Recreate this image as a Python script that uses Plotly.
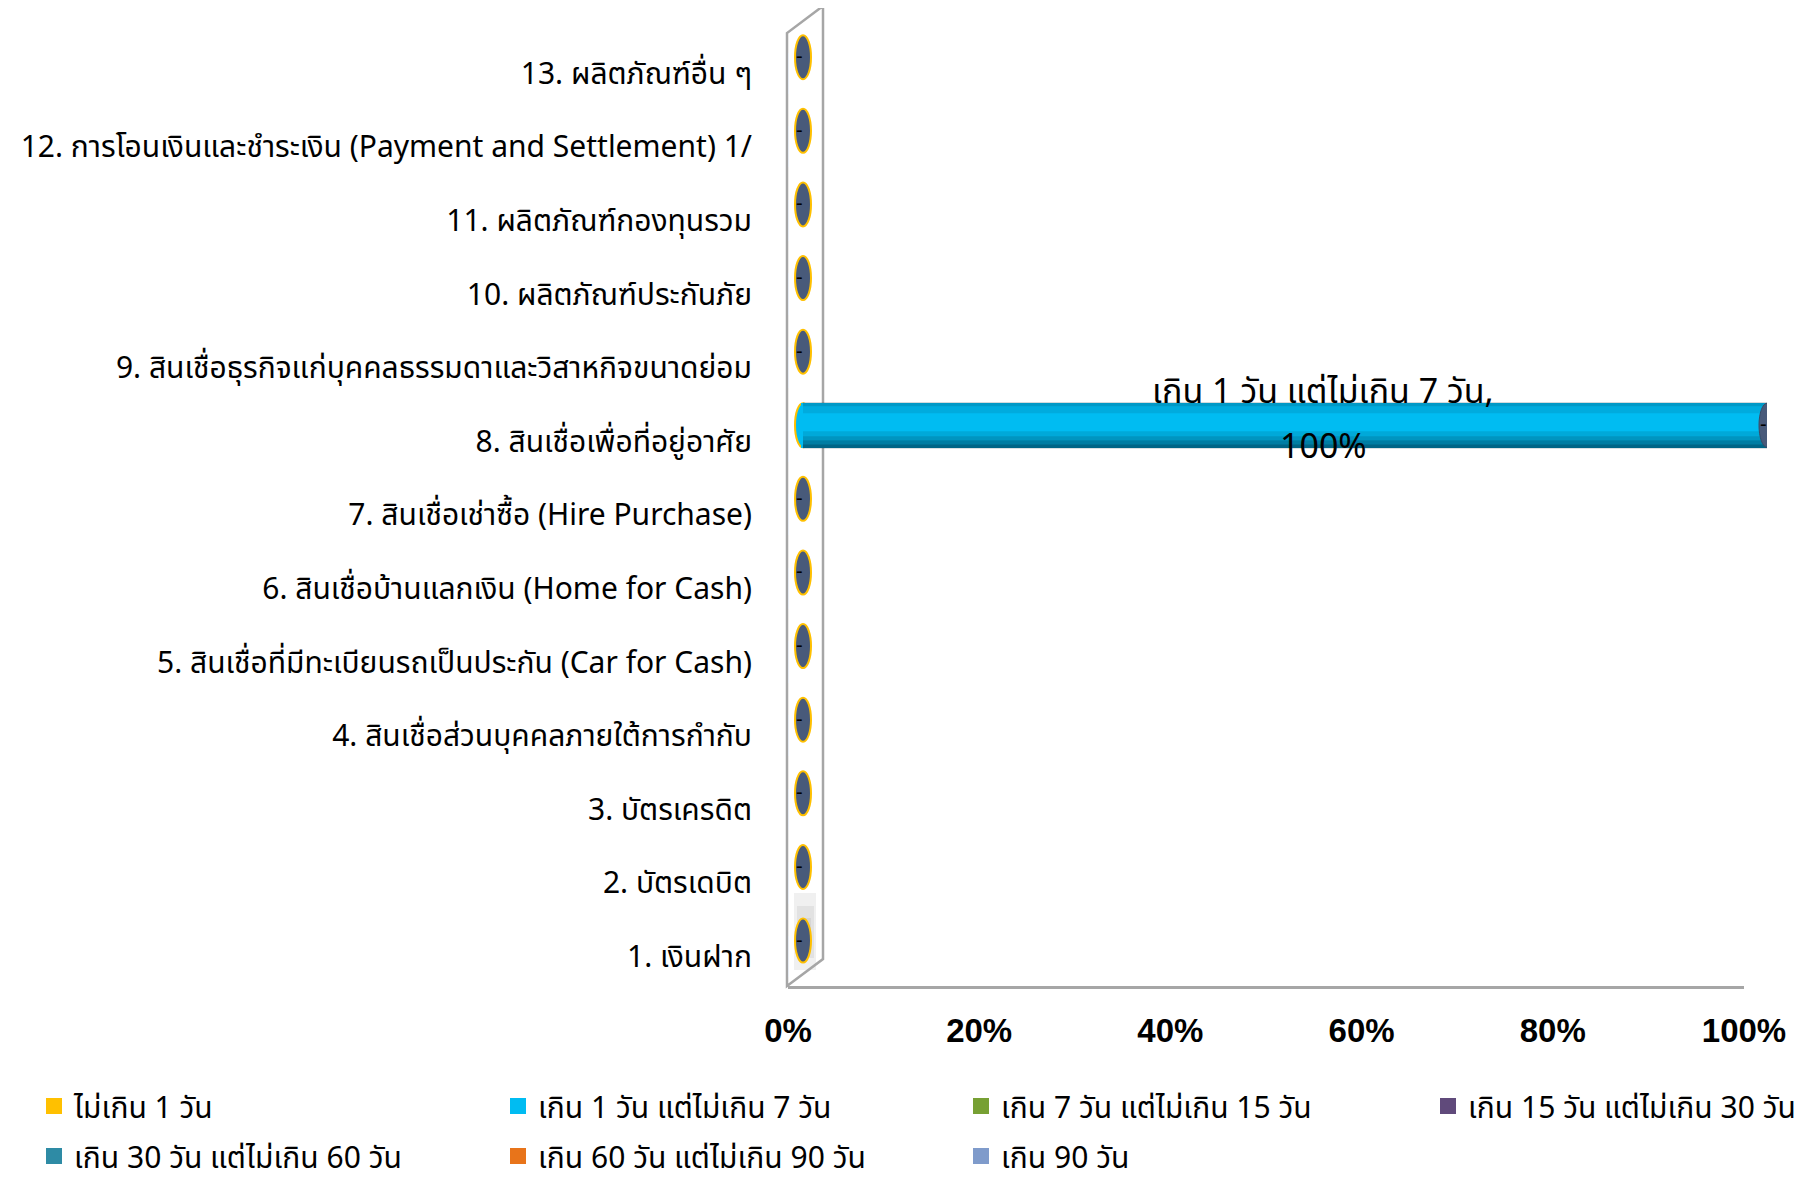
import plotly.graph_objects as go

categories = [
    "1. เงินฝาก",
    "2. บัตรเดบิต",
    "3. บัตรเครดิต",
    "4. สินเชื่อส่วนบุคคลภายใต้การกำกับ",
    "5. สินเชื่อที่มีทะเบียนรถเป็นประกัน (Car for Cash)",
    "6. สินเชื่อบ้านแลกเงิน (Home for Cash)",
    "7. สินเชื่อเช่าซื้อ (Hire Purchase)",
    "8. สินเชื่อเพื่อที่อยู่อาศัย",
    "9. สินเชื่อธุรกิจแก่บุคคลธรรมดาและวิสาหกิจขนาดย่อม",
    "10. ผลิตภัณฑ์ประกันภัย",
    "11. ผลิตภัณฑ์กองทุนรวม",
    "12. การโอนเงินและชำระเงิน (Payment and Settlement) 1/",
    "13. ผลิตภัณฑ์อื่น ๆ",
]
series_names = [
    "ไม่เกิน 1 วัน",
    "เกิน 1 วัน แต่ไม่เกิน 7 วัน",
    "เกิน 7 วัน แต่ไม่เกิน 15 วัน",
    "เกิน 15 วัน แต่ไม่เกิน 30 วัน",
    "เกิน 30 วัน แต่ไม่เกิน 60 วัน",
    "เกิน 60 วัน แต่ไม่เกิน 90 วัน",
    "เกิน 90 วัน",
]
v_le_1 = [0, 0, 0, 0, 0, 0, 0, 0, 0, 0, 0, 0, 0]
v_1_7 = [0, 0, 0, 0, 0, 0, 0, 100, 0, 0, 0, 0, 0]
v_7_15 = [0, 0, 0, 0, 0, 0, 0, 0, 0, 0, 0, 0, 0]
v_15_30 = [0, 0, 0, 0, 0, 0, 0, 0, 0, 0, 0, 0, 0]
v_30_60 = [0, 0, 0, 0, 0, 0, 0, 0, 0, 0, 0, 0, 0]
v_60_90 = [0, 0, 0, 0, 0, 0, 0, 0, 0, 0, 0, 0, 0]
v_gt_90 = [0, 0, 0, 0, 0, 0, 0, 0, 0, 0, 0, 0, 0]
series_values = [v_le_1, v_1_7, v_7_15, v_15_30, v_30_60, v_60_90, v_gt_90]
tick_values = [0, 20, 40, 60, 80, 100]
tick_labels = ["0%", "20%", "40%", "60%", "80%", "100%"]

colors = ["#FFC000", "#00BCF2", "#77A033", "#604A7B", "#2E8BA5", "#E8741A", "#7F9BCB"]
cap_color = "#485A7A"
gold = "#FFC000"

FONT = "Tahoma, 'Noto Sans Thai', Loma, Garuda, 'Noto Sans', 'DejaVu Sans', sans-serif"
W, H = 1820, 1186
ML, MR, MT, MB = 780, 56, 2, 208
PW, PH = W - ML - MR, H - MT - MB
AXW, AXH = 956, 957          # visible axis length in px
BXW = 964                    # bar axis length in px
DX, DY = 15, 16              # 3-D depth offset of the bars

fig = go.Figure()

# invisible anchor trace for the visible category axis
fig.add_trace(go.Bar(y=categories, x=[0] * len(categories), orientation="h",
                     xaxis="x", yaxis="y", showlegend=False, hoverinfo="skip",
                     marker=dict(color="rgba(0,0,0,0)")))

for i, (name, vals) in enumerate(zip(series_names, series_values)):
    fig.add_trace(go.Bar(
        y=categories, x=vals, name=name, orientation="h",
        xaxis="x2", yaxis="y2",
        marker=dict(color=colors[i], line=dict(width=4, color=colors[i])),
        legend="legend" if i == 0 else f"legend{i + 1}",
    ))

totals = [sum(s[k] for s in series_values) for k in range(len(categories))]
shapes = []
annotations = []


def px_x(p):
    return (p - ML) / PW


def px_y(p):
    return (H - MB - p) / PH


# soft shadow on the lower part of the side wall
for (ya, yb, xa, xb) in [(885, 962, 786, 808), (898, 950, 789, 806), (910, 940, 792, 803)]:
    shapes.append(dict(type="rect", xref="paper", yref="paper",
                       x0=px_x(xa), x1=px_x(xb), y0=px_y(yb), y1=px_y(ya),
                       fillcolor="rgba(110,110,110,0.10)", line=dict(width=0), layer="below"))

# cylinder shading bands over each non-zero segment (computed from data)
bands = [(-23, -19, 0.55), (-19, -15, 0.40), (-15, -11, 0.25), (-11, -6, 0.12),
         (12, 19, 0.10), (19, 23, 0.22)]
for i, vals in enumerate(series_values):
    for k, v in enumerate(vals):
        if v:
            start = sum(series_values[j][k] for j in range(i))
            for y0, y1, a in bands:
                shapes.append(dict(type="rect", xref="x2", yref="y2", ysizemode="pixel",
                                   yanchor=k, y0=y0, y1=y1, x0=start, x1=start + v,
                                   fillcolor=f"rgba(0,30,45,{a})", line=dict(width=0),
                                   layer="above"))

# cylinder caps (3-D look) computed from the data
for k, cat in enumerate(categories):
    first = next((i for i, s in enumerate(series_values) if s[k] != 0), None)
    start_fill = colors[first] if first is not None else cap_color
    shapes.append(dict(type="circle", xref="x2", yref="y2",
                       xsizemode="pixel", ysizemode="pixel",
                       xanchor=0, yanchor=k, x0=-8, x1=8, y0=-22, y1=22,
                       fillcolor=start_fill, line=dict(color=gold, width=2),
                       layer="below" if totals[k] else "above"))
    if totals[k]:
        shapes.append(dict(type="circle", xref="x2", yref="y2",
                           xsizemode="pixel", ysizemode="pixel",
                           xanchor=totals[k], yanchor=k, x0=-8, x1=8, y0=-22, y1=22,
                           fillcolor=cap_color, line=dict(color="#3A4A66", width=1),
                           layer="above"))
    # zero-value data labels shown as "-"
    annotations.append(dict(x=totals[k], y=k, xref="x2", yref="y2", text="-",
                            showarrow=False, xshift=-4, yshift=1,
                            font=dict(size=20, color="black", family="Arial")))

# side wall of the 3-D frame (pixel geometry)
wall = "M {},{} L {},{} L {},{} L {},{} Z".format(
    px_x(779), px_y(978), px_x(779), px_y(25), px_x(815), px_y(-2), px_x(815), px_y(951))
shapes.append(dict(type="path", xref="paper", yref="paper", path=wall,
                   line=dict(color="#A6A6A6", width=2.5), fillcolor="rgba(0,0,0,0)", layer="below"))

# data label for the non-zero value
for i, (name, vals) in enumerate(zip(series_names, series_values)):
    for k, v in enumerate(vals):
        if v:
            start = sum(series_values[j][k] for j in range(i))
            annotations.append(dict(x=start + v / 2, y=k, xref="x2", yref="y2",
                                    text=name + ",", showarrow=False, xshift=38, yshift=33,
                                    font=dict(size=34, color="black", family=FONT)))
            annotations.append(dict(x=start + v / 2, y=k, xref="x2", yref="y2",
                                    text=f"{v:.0f}%", showarrow=False, xshift=38, yshift=-22,
                                    font=dict(size=34, color="black", family=FONT)))

xdom = [0, AXW / PW]
x2dom = [0, (DX + BXW) / PW]
x2range = [-100 * DX / BXW, 100]
ydom = [0, AXH / PH]
y2dom = [DY / PH, (DY + AXH) / PH]
yrange = [-0.4, len(categories) - 0.4]

legend_cols = [26, 490, 953, 1420]
legend_rows = [1098, 1148]
legend_layout = {}
for i in range(len(series_names)):
    key = "legend" if i == 0 else f"legend{i + 1}"
    legend_layout[key] = dict(
        orientation="h", xref="container", yref="container",
        x=legend_cols[i % 4] / W, y=1 - legend_rows[i // 4] / H,
        xanchor="left", yanchor="middle",
        font=dict(size=30, family=FONT, color="black"), bgcolor="rgba(0,0,0,0)")

fig.update_layout(
    width=W, height=H,
    margin=dict(l=ML, r=MR, t=MT, b=MB),
    paper_bgcolor="white", plot_bgcolor="rgba(0,0,0,0)",
    barmode="stack", bargap=0.44,
    font=dict(family=FONT, color="black"),
    shapes=shapes, annotations=annotations,
    xaxis=dict(domain=xdom, range=[0, 100], tickvals=tick_values, ticktext=tick_labels,
               showgrid=False, zeroline=False, showline=True, linecolor="#A6A6A6", linewidth=2.5,
               ticks="", ticklabelstandoff=14,
               tickfont=dict(family="'Liberation Sans Narrow', 'Liberation Sans', Arial, sans-serif",
                             size=33, color="black", weight="bold"),
               anchor="y"),
    yaxis=dict(domain=ydom, range=yrange, type="category", showgrid=False, zeroline=False,
               showline=False, ticks="", ticklabelstandoff=35,
               tickfont=dict(size=30, color="black", family=FONT), anchor="x"),
    xaxis2=dict(domain=x2dom, range=x2range, visible=False, anchor="y2"),
    yaxis2=dict(domain=y2dom, range=yrange, type="category", visible=False, anchor="x2"),
    **legend_layout,
)

fig.write_html("out.html")
